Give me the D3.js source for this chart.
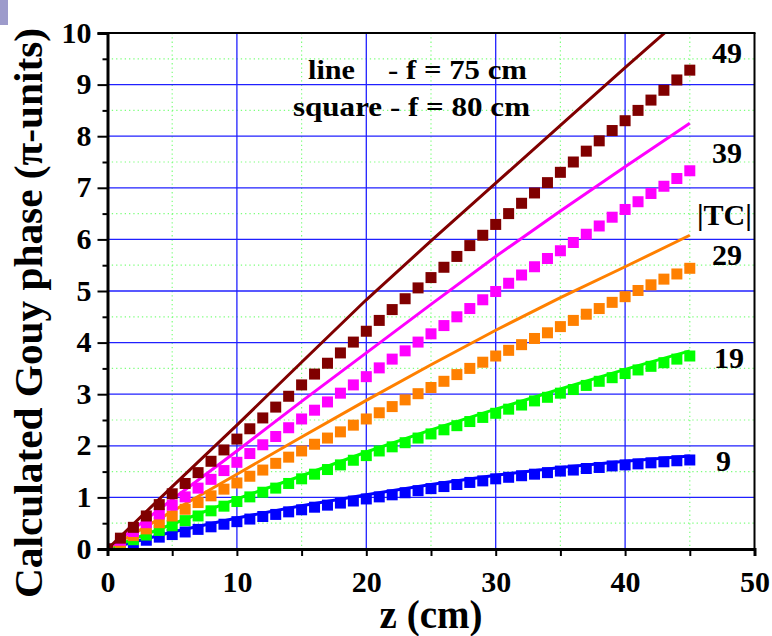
<!DOCTYPE html>
<html>
<head>
<meta charset="utf-8">
<script src="https://cdn.jsdelivr.net/npm/d3@7"></script>
<style>
  html, body { margin: 0; padding: 0; background: #fff; }
  svg { display: block; font-family: "Liberation Serif", "Times New Roman", serif; font-weight: bold; }
  svg text { font-weight: bold; }
</style>
</head>
<body>
<svg id="chart" width="772" height="636"></svg>
<script>
// Propagation distance z (cm), one sample per centimetre
const zValues = d3.range(0, 46);

// Topological charges |TC| shown
const charges = [9, 19, 29, 39, 49];
const seriesColors = ["#0000ff", "#00ff00", "#ff8000", "#ff00ff", "#800000"];

// Squares: f = 80 cm, Gouy phase in units of pi
const phase80_tc9 = [0, 0.06, 0.12, 0.17, 0.23, 0.28, 0.33, 0.38, 0.43, 0.48, 0.53, 0.58, 0.63, 0.67, 0.72, 0.76,
  0.81, 0.85, 0.89, 0.93, 0.97, 1.01, 1.05, 1.09, 1.13, 1.17, 1.21, 1.25, 1.29, 1.32, 1.36, 1.39, 1.42, 1.45,
  1.48, 1.51, 1.53, 1.56, 1.58, 1.61, 1.63, 1.65, 1.67, 1.69, 1.71, 1.725];
const phase80_tc19 = [0, 0.09, 0.18, 0.27, 0.36, 0.45, 0.55, 0.64, 0.74, 0.83, 0.92, 1.01, 1.10, 1.18, 1.27, 1.36,
  1.45, 1.54, 1.63, 1.72, 1.81, 1.90, 1.98, 2.06, 2.15, 2.23, 2.31, 2.39, 2.47, 2.55, 2.63, 2.71, 2.79, 2.87,
  2.94, 3.02, 3.09, 3.17, 3.25, 3.32, 3.40, 3.47, 3.54, 3.61, 3.68, 3.74];
const phase80_tc29 = [0, 0.13, 0.26, 0.39, 0.51, 0.64, 0.77, 0.90, 1.03, 1.16, 1.28, 1.41, 1.53, 1.66, 1.78, 1.90,
  2.03, 2.15, 2.27, 2.40, 2.52, 2.64, 2.76, 2.89, 3.01, 3.13, 3.25, 3.38, 3.50, 3.62, 3.74, 3.85, 3.96, 4.08,
  4.19, 4.31, 4.43, 4.55, 4.66, 4.78, 4.89, 5.01, 5.12, 5.23, 5.33, 5.44];
const phase80_tc39 = [0, 0.17, 0.34, 0.51, 0.68, 0.85, 1.01, 1.18, 1.35, 1.52, 1.68, 1.85, 2.02, 2.18, 2.35, 2.52,
  2.69, 2.85, 3.02, 3.18, 3.34, 3.51, 3.68, 3.84, 4.01, 4.17, 4.33, 4.50, 4.66, 4.83, 4.99, 5.15, 5.31, 5.47,
  5.63, 5.78, 5.94, 6.10, 6.26, 6.43, 6.58, 6.73, 6.89, 7.03, 7.18, 7.33];
const phase80_tc49 = [0, 0.21, 0.42, 0.64, 0.86, 1.07, 1.27, 1.48, 1.70, 1.92, 2.13, 2.33, 2.54, 2.75, 2.96, 3.18,
  3.39, 3.60, 3.80, 4.01, 4.22, 4.43, 4.64, 4.85, 5.06, 5.26, 5.46, 5.67, 5.88, 6.08, 6.29, 6.50, 6.70, 6.90,
  7.10, 7.30, 7.50, 7.71, 7.91, 8.11, 8.30, 8.50, 8.70, 8.89, 9.09, 9.28];

// Lines: f = 75 cm, sampled every 5 cm
const zLine = [0, 5, 10, 15, 20, 25, 30, 35, 40, 45];
const phase75_tc9  = [0, 0.33, 0.60, 0.84, 1.05, 1.25, 1.43, 1.58, 1.70, 1.80];
const phase75_tc19 = [0, 0.48, 0.97, 1.42, 1.88, 2.31, 2.71, 3.10, 3.48, 3.84];
const phase75_tc29 = [0, 0.73, 1.45, 2.17, 2.88, 3.57, 4.24, 4.87, 5.47, 6.08];
const phase75_tc39 = [0, 0.96, 1.90, 2.86, 3.80, 4.74, 5.67, 6.55, 7.41, 8.25];
const phase75_tc49 = [0, 1.21, 2.40, 3.62, 4.83, 5.97, 7.09, 8.21, 9.33, 10.43];

// Axis ticks
const xMajorTicks = [0, 10, 20, 30, 40, 50];
const xMinorTicks = [5, 15, 25, 35, 45];
const yMajorTicks = [0, 1, 2, 3, 4, 5, 6, 7, 8, 9, 10];
const yMinorTicks = [0.5, 1.5, 2.5, 3.5, 4.5, 5.5, 6.5, 7.5, 8.5, 9.5];

const squareSeries = [phase80_tc9, phase80_tc19, phase80_tc29, phase80_tc39, phase80_tc49];
const lineSeries = [phase75_tc9, phase75_tc19, phase75_tc29, phase75_tc39, phase75_tc49];

(function draw() {
  const svg = d3.select("#chart");
  const pLeft = 107.5, pRight = 754.5, pTop = 33, pBottom = 549;

  const x = d3.scaleLinear().domain([0, 50]).range([pLeft, pRight]);
  const y = d3.scaleLinear().domain([0, 10]).range([pBottom, pTop]);

  // corner marker
  svg.append("rect").attr("x", 0).attr("y", 0).attr("width", 8).attr("height", 25).attr("fill", "#9d9bcb");

  // grid: dotted minor lines, then solid major lines
  const grid = svg.append("g");
  grid.selectAll(".gxm").data(xMinorTicks).join("line")
    .attr("x1", d => x(d)).attr("x2", d => x(d)).attr("y1", pTop).attr("y2", pBottom)
    .attr("stroke", "#7dff7d").attr("stroke-width", 1.2).attr("stroke-dasharray", "1.3,3");
  grid.selectAll(".gym").data(yMinorTicks).join("line")
    .attr("y1", d => y(d)).attr("y2", d => y(d)).attr("x1", pLeft).attr("x2", pRight)
    .attr("stroke", "#7dff7d").attr("stroke-width", 1.2).attr("stroke-dasharray", "1.3,3");
  grid.selectAll(".gxM").data(xMajorTicks.slice(1, -1)).join("line")
    .attr("x1", d => x(d)).attr("x2", d => x(d)).attr("y1", pTop).attr("y2", pBottom)
    .attr("stroke", "#2020ff").attr("stroke-width", 1.3);
  grid.selectAll(".gyM").data(yMajorTicks.slice(1, -1)).join("line")
    .attr("y1", d => y(d)).attr("y2", d => y(d)).attr("x1", pLeft).attr("x2", pRight)
    .attr("stroke", "#2020ff").attr("stroke-width", 1.3);

  // data, clipped to the plotting frame
  svg.append("clipPath").attr("id", "plotClip").append("rect")
    .attr("x", pLeft).attr("y", pTop).attr("width", pRight - pLeft).attr("height", pBottom - pTop);
  const plot = svg.append("g").attr("clip-path", "url(#plotClip)");

  const lineGen = d3.line().x(d => x(d[0])).y(d => y(d[1]));
  const sq = 11;

  charges.forEach((tc, i) => {
    const color = seriesColors[i];
    const g = plot.append("g");
    g.selectAll("rect").data(zValues.map((z, k) => [z, squareSeries[i][k]])).join("rect")
      .attr("x", d => x(d[0]) - sq / 2).attr("y", d => y(d[1]) - sq / 2)
      .attr("width", sq).attr("height", sq).attr("fill", color);
    g.append("path").datum(zLine.map((z, k) => [z, lineSeries[i][k]]))
      .attr("d", lineGen).attr("fill", "none").attr("stroke", color).attr("stroke-width", 3);
  });

  // axes
  const fontTick = "30px";
  const xAxis = svg.append("g").attr("transform", `translate(0,${pBottom})`)
    .call(d3.axisBottom(x).tickValues(xMajorTicks.concat(xMinorTicks)).tickSize(7)
      .tickFormat(d => (d % 10 === 0 ? d : "")));
  xAxis.attr("font-family", null).attr("font-size", null);
  xAxis.select(".domain").attr("stroke", "#000").attr("stroke-width", 3);
  xAxis.selectAll(".tick line").attr("stroke", "#000").attr("stroke-width", 2);
  xAxis.selectAll(".tick text").style("font-size", fontTick).style("font-weight", "bold")
    .style("font-family", "'Liberation Serif', serif").attr("fill", "#000").attr("y", 22).attr("dy", "0.71em");

  const yAxis = svg.append("g").attr("transform", `translate(${pLeft},0)`)
    .call(d3.axisLeft(y).tickValues(yMajorTicks).tickSize(10).tickFormat(d3.format("d")));
  yAxis.attr("font-family", null).attr("font-size", null);
  yAxis.select(".domain").attr("stroke", "#000").attr("stroke-width", 3);
  yAxis.selectAll(".tick line").attr("stroke", "#000").attr("stroke-width", 2);
  yAxis.selectAll(".tick text").style("font-size", fontTick).style("font-weight", "bold")
    .style("font-family", "'Liberation Serif', serif").attr("fill", "#000").attr("x", -16).attr("dy", "0.3em");

  const yMinor = svg.append("g").attr("transform", `translate(${pLeft},0)`)
    .call(d3.axisLeft(y).tickValues(yMinorTicks).tickSize(5).tickFormat(""));
  yMinor.select(".domain").remove();
  yMinor.selectAll(".tick line").attr("stroke", "#000").attr("stroke-width", 2);

  // frame top and right
  svg.append("line").attr("x1", pLeft).attr("x2", pRight + 1).attr("y1", pTop).attr("y2", pTop)
    .attr("stroke", "#000").attr("stroke-width", 2);
  svg.append("line").attr("x1", pRight).attr("x2", pRight).attr("y1", pTop).attr("y2", pBottom)
    .attr("stroke", "#000").attr("stroke-width", 2);

  // axis titles
  svg.append("text").attr("x", (pLeft + pRight) / 2).attr("y", 628).attr("text-anchor", "middle")
    .attr("font-size", "39px").text("z (cm)");
  svg.append("text").attr("transform", "translate(42,313) rotate(-90)").attr("text-anchor", "middle")
    .attr("font-size", "41px").attr("textLength", 570).attr("lengthAdjust", "spacingAndGlyphs")
    .text("Calculated Gouy phase (π-units)");

  // legend note
  const note = svg.append("g").attr("font-size", "28px");
  note.append("text").attr("x", 308).attr("y", 79).attr("textLength", 47)
    .attr("lengthAdjust", "spacingAndGlyphs").text("line");
  note.append("text").attr("x", 388).attr("y", 79).attr("textLength", 139)
    .attr("lengthAdjust", "spacingAndGlyphs").text("- f = 75 cm");
  note.append("text").attr("x", 293).attr("y", 116).attr("textLength", 237)
    .attr("lengthAdjust", "spacingAndGlyphs").text("square - f = 80 cm");

  // charge labels at the line ends
  const chargeLabels = [
    { t: "49", x: 712, y: 63 },
    { t: "39", x: 712, y: 163 },
    { t: "|TC|", x: 697, y: 225 },
    { t: "29", x: 712, y: 265 },
    { t: "19", x: 714, y: 368 },
    { t: "9", x: 716, y: 471 }
  ];
  svg.append("g").attr("font-size", "30px").selectAll("text").data(chargeLabels).join("text")
    .attr("x", d => d.x).attr("y", d => d.y).text(d => d.t);
})();
</script>
</body>
</html>
